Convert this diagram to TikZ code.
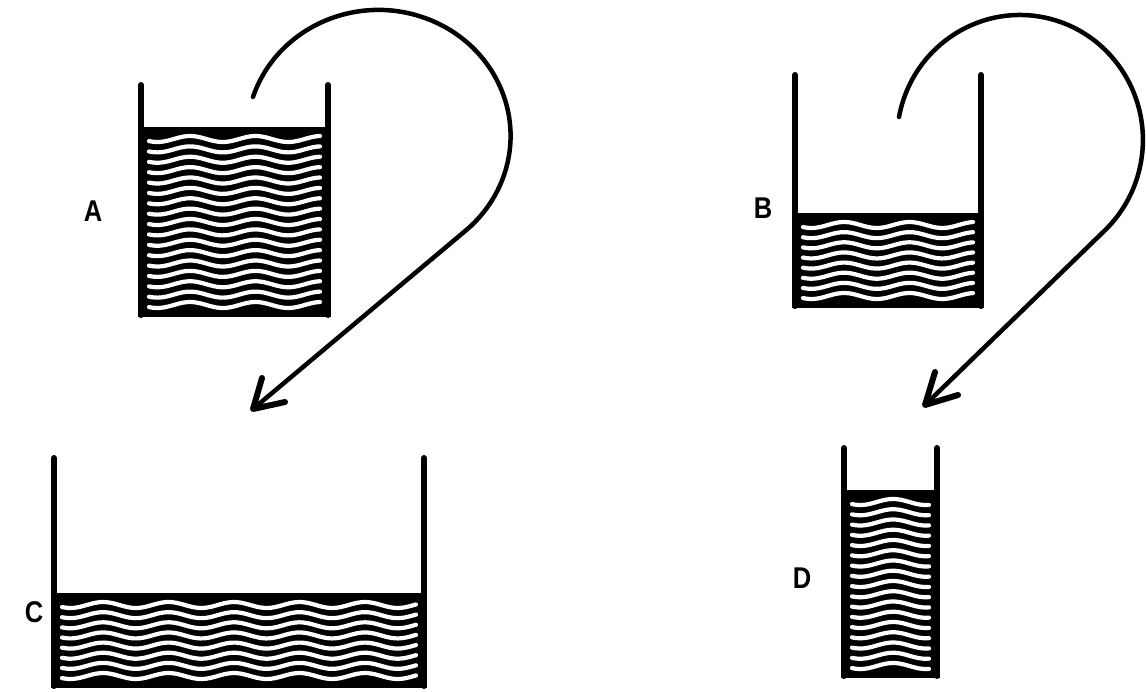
\documentclass[tikz,border=0pt]{standalone}
\usepackage{fontspec}
\setmainfont{Liberation Sans}
\newcommand\tankdraw[6]{%
  \fill (#1-3,#4) rectangle (#2+3,#5+3);
  \pgfmathsetmacro\tankstep{(#5-9-(#4+12))/(#6-1)}
  \foreach \k in {1,...,#6}{
    \pgfmathsetmacro\tanky{#4+12+(\k-1)*\tankstep}
    \draw[wave] plot[domain=#1+8:#2-8,samples=60,smooth] (\x,{\tanky+3*sin(5.5*(\x-#1))});
  }
  \draw[wall] (#1,#3) -- (#1,#5+1);
  \draw[wall] (#2,#3) -- (#2,#5+1);
}
\begin{document}
\begin{tikzpicture}[x=1pt,y=-1pt,
  wall/.style={line width=6pt,line cap=round},
  wave/.style={white,line width=4.2pt,line cap=round},
  loopline/.style={line width=4.5pt,line cap=round},
  barb/.style={line width=6pt,line cap=round,line join=round},
  lbl/.style={font=\fontsize{30}{30}\selectfont\bfseries,inner sep=0pt,xscale=0.85}]
\useasboundingbox (0,0) rectangle (1146,691);

% tanks
\tankdraw{141}{328}{85}{127}{314}{17}
\tankdraw{795}{981}{75}{213}{305}{8}
\tankdraw{54}{424}{458}{593}{685}{8}
\tankdraw{844}{937}{448}{490}{675}{17}

% labels
\node[lbl] (labA) at (93,211) {A};
\node[lbl] (labB) at (763,208) {B};
\node[lbl] (labC) at (34,612) {C};
\node[lbl] (labD) at (802,578) {D};

% arrow A -> C
\coordinate (s1) at (253,97);
\coordinate (t1) at (253,409);
\coordinate (a1) at (262,378);
\coordinate (b1) at (285,402);
\draw[loopline] (s1) arc[start angle=198,end angle=408.7,x radius=132,y radius=126] -- (t1);
\draw[barb] (a1) -- (t1) -- (b1);

% arrow B -> D
\coordinate (s2) at (899,117);
\coordinate (t2) at (925,405);
\coordinate (a2) at (935,372);
\coordinate (b2) at (958,395);
\draw[loopline] (s2) arc[start angle=190.6,end angle=406.3,x radius=123,y radius=125] -- (t2);
\draw[barb] (a2) -- (t2) -- (b2);
\end{tikzpicture}
\end{document}
